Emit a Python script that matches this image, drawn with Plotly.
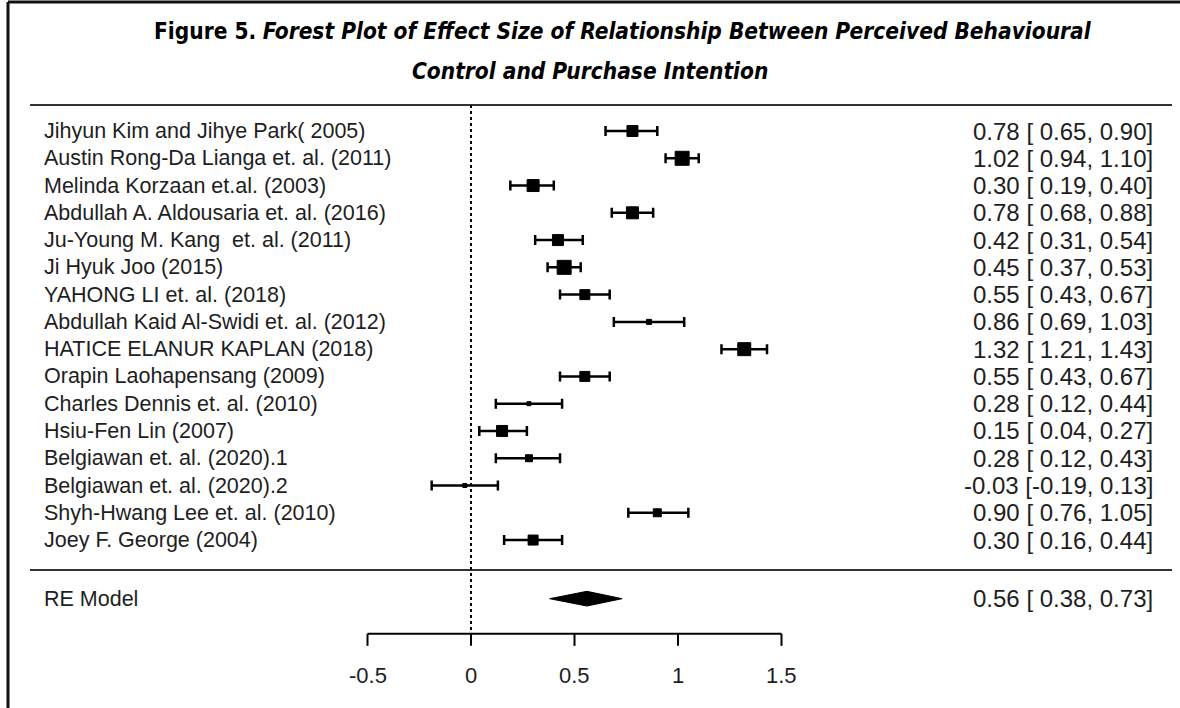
import plotly.graph_objects as go

# Study-level effect sizes (correlation-based) with 95% confidence limits
studies = [
    "Jihyun Kim and Jihye Park( 2005)",
    "Austin Rong-Da Lianga et. al. (2011)",
    "Melinda Korzaan et.al. (2003)",
    "Abdullah A. Aldousaria et. al. (2016)",
    "Ju-Young M. Kang  et. al. (2011)",
    "Ji Hyuk Joo (2015)",
    "YAHONG LI et. al. (2018)",
    "Abdullah Kaid Al-Swidi et. al. (2012)",
    "HATICE ELANUR KAPLAN (2018)",
    "Orapin Laohapensang (2009)",
    "Charles Dennis et. al. (2010)",
    "Hsiu-Fen Lin (2007)",
    "Belgiawan et. al. (2020).1",
    "Belgiawan et. al. (2020).2",
    "Shyh-Hwang Lee et. al. (2010)",
    "Joey F. George (2004)",
]
estimate = [0.78, 1.02, 0.30, 0.78, 0.42, 0.45, 0.55, 0.86, 1.32, 0.55, 0.28, 0.15, 0.28, -0.03, 0.90, 0.30]
ci_lower = [0.65, 0.94, 0.19, 0.68, 0.31, 0.37, 0.43, 0.69, 1.21, 0.43, 0.12, 0.04, 0.12, -0.19, 0.76, 0.16]
ci_upper = [0.90, 1.10, 0.40, 0.88, 0.54, 0.53, 0.67, 1.03, 1.43, 0.67, 0.44, 0.27, 0.43, 0.13, 1.05, 0.44]
# relative study weights, shown as square marker sizes (px)
weight_px = [12, 15, 13, 13, 12, 15, 11, 6, 14, 11, 5, 12, 8, 5, 9, 11]

# Random-effects pooled estimate
re_label = "RE Model"
re_est, re_lo, re_hi = 0.56, 0.38, 0.73

tick_values = [-0.5, 0, 0.5, 1, 1.5]
tick_labels = ["-0.5", "0", "0.5", "1", "1.5"]

k = len(studies)
rows = list(range(k, 0, -1))          # study rows k..1, top to bottom
re_row = -1.15
top_rule = k + 0.95
bottom_rule = -0.1
axis_row = -2.44
tick_len = 0.44
label_row = -3.95

FONT = "Liberation Sans, Arial, sans-serif"
TXT = "#1e1e1e"
FS_NAME = 21.5
FS_NUM = 24
FS_TICK = 22

fig = go.Figure()

# confidence intervals + weighted squares
fig.add_trace(go.Scatter(
    x=estimate, y=rows, mode="markers",
    marker=dict(symbol="square", size=[s - 1 for s in weight_px], color="black",
                opacity=1, line=dict(width=1, color="black")),
    error_x=dict(type="data", symmetric=False,
                 array=[h - e for h, e in zip(ci_upper, estimate)],
                 arrayminus=[e - l for e, l in zip(estimate, ci_lower)],
                 color="black", thickness=2.5, width=5),
    hoverinfo="skip", showlegend=False,
))

# pooled-estimate diamond
half_h = 0.27
fig.add_trace(go.Scatter(
    x=[re_lo, re_est, re_hi, re_est, re_lo],
    y=[re_row, re_row + half_h, re_row, re_row - half_h, re_row],
    mode="lines", fill="toself", fillcolor="black",
    line=dict(color="black", width=1), hoverinfo="skip", showlegend=False,
))

shapes = []
# horizontal rules
for yv in (top_rule, bottom_rule):
    shapes.append(dict(type="line", xref="paper", yref="y", x0=30 / 1180, x1=1172 / 1180,
                       y0=yv, y1=yv, line=dict(color="#333", width=2)))
# reference line at zero
shapes.append(dict(type="line", xref="x", yref="y", x0=0, x1=0, y0=top_rule, y1=axis_row,
                   line=dict(color="black", width=2, dash="dot")))
# x axis line and ticks
shapes.append(dict(type="line", xref="x", yref="y", x0=tick_values[0], x1=tick_values[-1],
                   y0=axis_row, y1=axis_row, line=dict(color="black", width=2)))
for tv in tick_values:
    shapes.append(dict(type="line", xref="x", yref="y", x0=tv, x1=tv,
                       y0=axis_row, y1=axis_row - tick_len, line=dict(color="black", width=2)))
# frame (left and top edges)
shapes.append(dict(type="line", xref="paper", yref="paper", x0=8 / 1180, x1=8 / 1180,
                   y0=0, y1=1 - 2 / 708, line=dict(color="#111", width=3)))
shapes.append(dict(type="line", xref="paper", yref="paper", x0=8 / 1180, x1=1,
                   y0=1 - 2 / 708, y1=1 - 2 / 708, line=dict(color="#111", width=3)))

annotations = []
for name, r, e, lo, hi in zip(studies, rows, estimate, ci_lower, ci_upper):
    annotations.append(dict(x=42 / 1180, xref="paper", y=r, yref="y", text=name.replace("  ", "&nbsp; "),
                            xanchor="left", yanchor="middle", showarrow=False,
                            font=dict(family=FONT, size=FS_NAME, color=TXT)))
    annotations.append(dict(x=1155 / 1180, xref="paper", y=r, yref="y",
                            text=f"{e:.2f} [{lo:5.2f}, {hi:.2f}]".replace("[ ", "[&nbsp;"),
                            xanchor="right", yanchor="middle", showarrow=False,
                            font=dict(family=FONT, size=FS_NUM, color=TXT)))
annotations.append(dict(x=42 / 1180, xref="paper", y=re_row, yref="y", text=re_label,
                        xanchor="left", yanchor="middle", showarrow=False,
                        font=dict(family=FONT, size=FS_NAME, color=TXT)))
annotations.append(dict(x=1155 / 1180, xref="paper", y=re_row, yref="y",
                        text=f"{re_est:.2f} [{re_lo:5.2f}, {re_hi:.2f}]".replace("[ ", "[&nbsp;"),
                        xanchor="right", yanchor="middle", showarrow=False,
                        font=dict(family=FONT, size=FS_NUM, color=TXT)))
for tv, tl in zip(tick_values, tick_labels):
    annotations.append(dict(x=tv, xref="x", y=label_row, yref="y", text=tl,
                            xanchor="center", yanchor="middle", showarrow=False,
                            font=dict(family=FONT, size=FS_TICK, color=TXT)))

# title (two centred lines)
TFONT = "DejaVu Sans Condensed, sans-serif"
annotations.append(dict(x=623 / 1180, xref="paper", y=1 - 31 / 708, yref="paper",
                        text="<b>Figure 5.</b> <b><i>Forest Plot of Effect Size of Relationship Between Perceived Behavioural</i></b>",
                        xanchor="center", yanchor="middle", showarrow=False,
                        font=dict(family=TFONT, size=22.5, color="black")))
annotations.append(dict(x=0.5, xref="paper", y=1 - 71 / 708, yref="paper",
                        text="<b><i>Control and Purchase Intention</i></b>",
                        xanchor="center", yanchor="middle", showarrow=False,
                        font=dict(family=TFONT, size=22.5, color="black")))

# map data units to pixels: x = 471 + 207*value, y = 131 + 27.27*(k - row)
x_lo = (0 - 471) / 207
x_hi = (1180 - 471) / 207
y_hi = k + 131 / 27.27
y_lo = k - (708 - 131) / 27.27

fig.update_layout(
    width=1180, height=708, margin=dict(l=0, r=0, t=0, b=0),
    paper_bgcolor="white", plot_bgcolor="white",
    xaxis=dict(range=[x_lo, x_hi], visible=False, fixedrange=True),
    yaxis=dict(range=[y_lo, y_hi], visible=False, fixedrange=True),
    shapes=shapes, annotations=annotations, showlegend=False,
)

fig.write_html("out.html")
